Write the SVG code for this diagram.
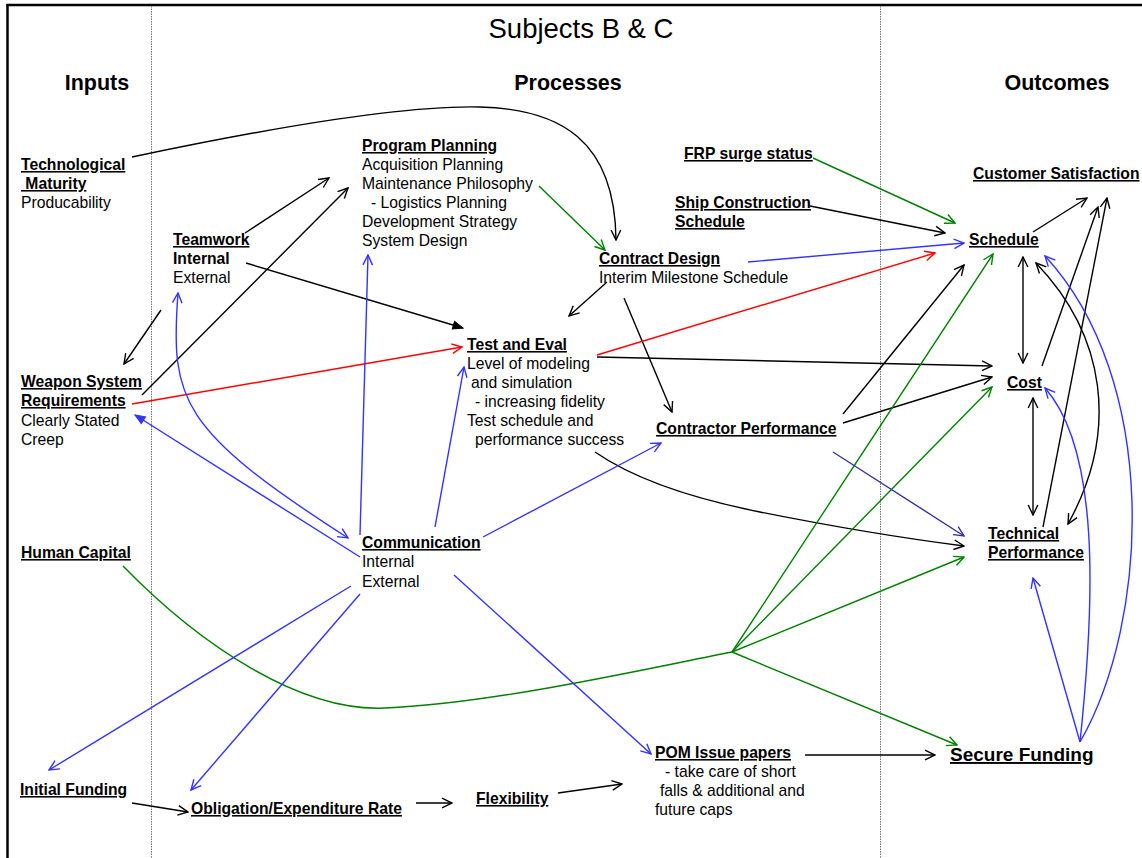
<svg xmlns="http://www.w3.org/2000/svg" width="1142" height="858" viewBox="0 0 1142 858">
<style>
text{font-family:"Liberation Sans",Arial,sans-serif;fill:#000}
.t{font-size:27.5px;text-anchor:middle}
.h{font-size:21.5px;font-weight:bold;text-anchor:middle}
.b{font-size:15.7px;font-weight:bold;text-decoration:underline}
.bn{font-size:15.7px;font-weight:bold}
.n{font-size:15.7px}
.sf{font-size:19px;font-weight:bold;text-decoration:underline}
.pre{white-space:pre}
.c{fill:none;stroke-width:1.4}
.k{stroke:#000;marker-end:url(#ak)}
.r{stroke:#ff0000;marker-end:url(#ar)}
.g{stroke:#008000;marker-end:url(#ag)}
.u{stroke:#3333ff;marker-end:url(#au)}
.d{stroke:#333399;marker-end:url(#ad)}
.dot{stroke:#777;stroke-width:1;stroke-dasharray:1.5,1}
</style>
<defs>
<marker id="ak" viewBox="0 0 12 12" refX="11" refY="6" markerWidth="12" markerHeight="12" orient="auto-start-reverse" markerUnits="userSpaceOnUse"><path d="M1,1.2 L11,6 L1,10.8" fill="none" stroke="#000" stroke-width="1.4"/></marker>
<marker id="akf" viewBox="0 0 12 12" refX="11" refY="6" markerWidth="12" markerHeight="12" orient="auto" markerUnits="userSpaceOnUse"><path d="M1,2 L11,6 L1,10 Z" fill="#000" stroke="#000" stroke-width="1"/></marker>
<marker id="ar" viewBox="0 0 12 12" refX="11" refY="6" markerWidth="12" markerHeight="12" orient="auto" markerUnits="userSpaceOnUse"><path d="M1,1.2 L11,6 L1,10.8" fill="none" stroke="#ff0000" stroke-width="1.4"/></marker>
<marker id="ag" viewBox="0 0 12 12" refX="11" refY="6" markerWidth="12" markerHeight="12" orient="auto" markerUnits="userSpaceOnUse"><path d="M1,1.2 L11,6 L1,10.8" fill="none" stroke="#008000" stroke-width="1.4"/></marker>
<marker id="au" viewBox="0 0 12 12" refX="11" refY="6" markerWidth="12" markerHeight="12" orient="auto-start-reverse" markerUnits="userSpaceOnUse"><path d="M1,1.2 L11,6 L1,10.8" fill="none" stroke="#3333ff" stroke-width="1.4"/></marker>
<marker id="auf" viewBox="0 0 12 12" refX="11" refY="6" markerWidth="12" markerHeight="12" orient="auto" markerUnits="userSpaceOnUse"><path d="M1,2 L11,6 L1,10 Z" fill="#3333ff" stroke="#3333ff" stroke-width="1"/></marker>
<marker id="ad" viewBox="0 0 12 12" refX="11" refY="6" markerWidth="12" markerHeight="12" orient="auto" markerUnits="userSpaceOnUse"><path d="M1,1.2 L11,6 L1,10.8" fill="none" stroke="#333399" stroke-width="1.4"/></marker>
</defs>
<rect width="1142" height="858" fill="#fff"/>
<g id="frame">
<line x1="7.5" y1="4" x2="7.5" y2="858" stroke="#000" stroke-width="2.5"/>
<line x1="6.5" y1="5" x2="1142" y2="5" stroke="#000" stroke-width="2.5"/>
<line class="dot" x1="151.5" y1="6" x2="151.5" y2="858"/>
<line class="dot" x1="880.5" y1="6" x2="880.5" y2="858"/>
</g>
<g id="headers">
<text class="t" x="581" y="38">Subjects B &amp; C</text>
<text class="h" x="97" y="90">Inputs</text>
<text class="h" x="568" y="90">Processes</text>
<text class="h" x="1057" y="90">Outcomes</text>
</g>
<g id="connectors">
<path class="c k" d="M132,157 C260,130 400,105 480,107 C560,109 615,140 616,240"/>
<path class="c k" d="M245,233 L329,178"/>
<path class="c k" d="M142,395 L348,188"/>
<path class="c k" d="M161,310 L124,364"/>
<path class="c" stroke="#000" marker-end="url(#akf)" d="M246,263 L463,328"/>
<path class="c k" d="M597,357 L992,366"/>
<path class="c k" d="M607,282 L569,316"/>
<path class="c k" d="M624,298 L672,412"/>
<path class="c k" d="M810,206 L945,233"/>
<path class="c k" d="M843,414 L964,265"/>
<path class="c k" d="M843,423 L992,377"/>
<path class="c k" d="M595,452 Q650,490 760,512 T964,546"/>
<path class="c k" d="M132,803 L188,812"/>
<path class="c k" d="M416,803 L452,803"/>
<path class="c k" d="M558,793 L622,784"/>
<path class="c k" d="M805,755 L935,755"/>
<path class="c k" d="M1033,232 L1087,198"/>
<path class="c k" marker-start="url(#ak)" d="M1023,257 L1023,363"/>
<path class="c k" d="M1042,366 L1098,207"/>
<path class="c k" marker-start="url(#ak)" d="M1033,398 L1033,515"/>
<path class="c k" d="M1043,527 L1107,198"/>
<path class="c k" marker-start="url(#ak)" d="M1036,263 C1105,335 1120,430 1068,524"/>
<path class="c r" d="M132,404 L462,347"/>
<path class="c r" d="M597,355 L935,253"/>
<path class="c g" d="M539,186 L605,250"/>
<path class="c g" d="M813,158 L955,223"/>
<path class="c" stroke="#008000" d="M123,566 C200,645 300,712 385,708 C490,704 640,670 732,652"/>
<path class="c g" d="M732,652 L993,254"/>
<path class="c g" d="M732,652 L992,387"/>
<path class="c g" d="M732,652 L964,557"/>
<path class="c g" d="M732,652 L957,745"/>
<path class="c u" d="M748,262 L964,243"/>
<path class="c u" marker-start="url(#au)" d="M178,293 C170,400 180,430 348,538"/>
<path class="c" stroke="#3333ff" marker-end="url(#auf)" d="M360,557 L135,415"/>
<path class="c u" d="M360,535 L368,255"/>
<path class="c u" d="M435,527 L464,367"/>
<path class="c u" d="M483,537 L661,443"/>
<path class="c u" d="M351,586 L49,770"/>
<path class="c u" d="M360,594 L191,790"/>
<path class="c u" d="M454,575 L651,754"/>
<path class="c u" d="M1080,742 L1033,578"/>
<path class="c u" d="M1080,742 C1095,600 1100,450 1045,388"/>
<path class="c u" d="M1080,742 C1150,620 1160,380 1045,256"/>
<path class="c d" d="M833,452 L964,536"/>
</g>
<g id="tech-maturity">
<text class="b" x="21" y="170">Technological</text>
<text class="b pre" x="21" y="189" xml:space="preserve"> Maturity</text>
<text class="n" x="21" y="208">Producability</text>
</g>
<g id="weapon-system">
<text class="b" x="21" y="387">Weapon System</text>
<text class="b" x="21" y="406">Requirements</text>
<text class="n" x="21" y="426">Clearly Stated</text>
<text class="n" x="21" y="445">Creep</text>
</g>
<g id="human-capital"><text class="b" x="21" y="558">Human Capital</text></g>
<g id="initial-funding"><text class="b" x="20" y="795">Initial Funding</text></g>
<g id="teamwork">
<text class="b" x="173" y="245">Teamwork</text>
<text class="bn" x="173" y="264">Internal</text>
<text class="n" x="173" y="283">External</text>
</g>
<g id="program-planning">
<text class="b" x="362" y="151">Program Planning</text>
<text class="n" x="362" y="170">Acquisition Planning</text>
<text class="n" x="362" y="189">Maintenance Philosophy</text>
<text class="n" x="371" y="208">- Logistics Planning</text>
<text class="n" x="362" y="227">Development Strategy</text>
<text class="n" x="362" y="246">System Design</text>
</g>
<g id="contract-design">
<text class="b" x="599" y="264">Contract Design</text>
<text class="n" x="599" y="283">Interim Milestone Schedule</text>
</g>
<g id="test-eval">
<text class="b" x="467" y="350">Test and Eval</text>
<text class="n" x="467" y="369">Level of modeling</text>
<text class="n" x="471" y="388">and simulation</text>
<text class="n" x="475" y="407">- increasing fidelity</text>
<text class="n" x="467" y="426">Test schedule and</text>
<text class="n" x="475" y="445">performance success</text>
</g>
<g id="contractor-performance"><text class="b" x="656" y="434">Contractor Performance</text></g>
<g id="communication">
<text class="b" x="362" y="548">Communication</text>
<text class="n" x="362" y="567">Internal</text>
<text class="n" x="362" y="587">External</text>
</g>
<g id="obligation"><text class="b" x="191" y="814">Obligation/Expenditure Rate</text></g>
<g id="flexibility"><text class="b" x="476" y="804">Flexibility</text></g>
<g id="pom">
<text class="b" x="655" y="758">POM Issue papers</text>
<text class="n" x="665" y="777">- take care of short</text>
<text class="n" x="660" y="796">falls &amp; additional and</text>
<text class="n" x="655" y="815">future caps</text>
</g>
<g id="frp"><text class="b" x="684" y="159">FRP surge status</text></g>
<g id="ship-construction">
<text class="b" x="675" y="208">Ship Construction</text>
<text class="b" x="675" y="227">Schedule</text>
</g>
<g id="customer-satisfaction"><text class="b" x="973" y="179">Customer Satisfaction</text></g>
<g id="schedule"><text class="b" x="969" y="245">Schedule</text></g>
<g id="cost"><text class="b" x="1007" y="388">Cost</text></g>
<g id="technical-performance">
<text class="b" x="988" y="539">Technical</text>
<text class="b" x="988" y="558">Performance</text>
</g>
<g id="secure-funding"><text class="sf" x="950" y="761">Secure Funding</text></g>
</svg>
